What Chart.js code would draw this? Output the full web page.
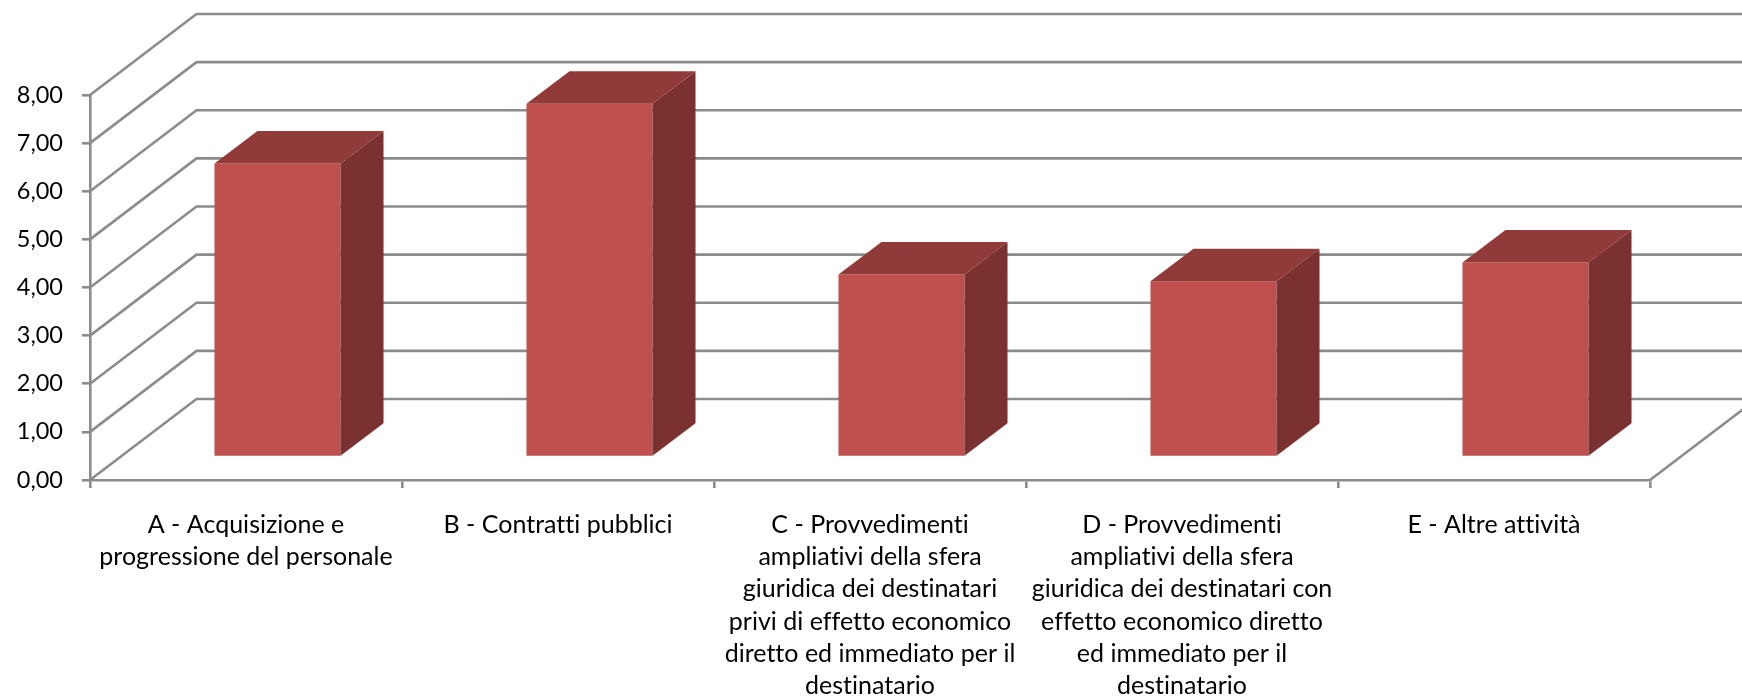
<!DOCTYPE html>
<html lang="it">
<head>
  <meta charset="UTF-8">
  <title>Aree di rischio</title>
  <script src="https://cdn.jsdelivr.net/npm/chart.js"></script>
  <style>
    html, body { margin: 0; padding: 0; background: #fff; overflow: hidden; }
    canvas { display: block; }
  </style>
</head>
<body>
  <canvas id="chart" width="1742" height="697"></canvas>

  <script>
    const categories = [
      ['A - Acquisizione e', 'progressione del personale'],
      ['B - Contratti pubblici'],
      ['C - Provvedimenti', 'ampliativi della sfera', 'giuridica dei destinatari', 'privi di effetto economico', 'diretto ed immediato per il', 'destinatario'],
      ['D - Provvedimenti', 'ampliativi della sfera', 'giuridica dei destinatari con', 'effetto economico diretto', 'ed immediato per il', 'destinatario'],
      ['E - Altre attività']
    ];
    const values = [6.10, 7.34, 3.79, 3.65, 4.04];
    const yMin = 0;
    const yMax = 8;
    const yStep = 1;

    const lineColor = '#8c8c8c';
    const wallDx = 106.5, wallDy = -81;   // front plane -> back wall
    const barDx = 31.5, barDy = -23;      // front plane -> front of the bar
    const depthDx = 43, depthDy = -32.5;  // front of the bar -> back of the bar

    // a tiny letter spacing switches off the "tt" ligature of the font
    const noLigatures = {
      id: 'noLigatures',
      beforeDraw(chart) { chart.ctx.letterSpacing = '0.01px'; }
    };

    // back wall, floor and side wall, drawn under the bars
    const walls = {
      id: 'walls',
      beforeDatasetsDraw(chart) {
        const { ctx, chartArea, scales } = chart;
        ctx.save();
        ctx.strokeStyle = lineColor;
        ctx.lineWidth = 2.6;
        for (let v = yMin; v <= yMax; v += yStep) {
          const y = scales.y.getPixelForValue(v);
          ctx.beginPath();
          ctx.moveTo(chartArea.left, y);
          ctx.lineTo(chartArea.left + wallDx, y + wallDy);
          ctx.lineTo(chart.width, y + wallDy);
          ctx.stroke();
        }
        const y0 = scales.y.getPixelForValue(yMin);
        ctx.beginPath();
        ctx.moveTo(chartArea.right, y0);
        ctx.lineTo(chartArea.right + wallDx, y0 + wallDy);
        ctx.stroke();
        ctx.restore();
      }
    };

    // shifts the bars onto the floor and adds top and side faces
    const bars3d = {
      id: 'bars3d',
      beforeDatasetDraw(chart) {
        chart.ctx.save();
        chart.ctx.translate(barDx, barDy);
      },
      afterDatasetDraw(chart, args) {
        const ctx = chart.ctx;
        args.meta.data.forEach(bar => {
          const left = bar.x - bar.width / 2;
          const right = bar.x + bar.width / 2;
          ctx.fillStyle = '#903b39';
          ctx.beginPath();
          ctx.moveTo(left, bar.y);
          ctx.lineTo(left + depthDx, bar.y + depthDy);
          ctx.lineTo(right + depthDx, bar.y + depthDy);
          ctx.lineTo(right, bar.y);
          ctx.closePath();
          ctx.fill();
          ctx.fillStyle = '#7b3130';
          ctx.beginPath();
          ctx.moveTo(right, bar.y);
          ctx.lineTo(right + depthDx, bar.y + depthDy);
          ctx.lineTo(right + depthDx, bar.base + depthDy);
          ctx.lineTo(right, bar.base);
          ctx.closePath();
          ctx.fill();
        });
        ctx.restore();
      }
    };

    new Chart(document.getElementById('chart'), {
      type: 'bar',
      data: {
        labels: categories,
        datasets: [{
          data: values,
          backgroundColor: '#c0504d',
          borderWidth: 0,
          barPercentage: 0.404,
          categoryPercentage: 1,
          clip: false
        }]
      },
      plugins: [noLigatures, walls, bars3d],
      options: {
        responsive: false,
        animation: false,
        layout: { padding: { top: 95, right: 92, left: 0, bottom: 0 } },
        plugins: { legend: { display: false }, tooltip: { enabled: false } },
        scales: {
          x: {
            afterFit(scale) { scale.height = 217; },
            border: { color: lineColor, width: 2.6 },
            grid: { drawOnChartArea: false, color: lineColor, lineWidth: 2.6, tickLength: 8, offset: true },
            ticks: {
              autoSkip: false,
              maxRotation: 0,
              padding: 20.5,
              color: '#000',
              font: { family: 'Lato', size: 25, lineHeight: 1.292 }
            }
          },
          y: {
            min: yMin,
            max: yMax,
            afterFit(scale) { scale.width = 90; },
            border: { color: lineColor, width: 2.6 },
            grid: { drawOnChartArea: false, color: lineColor, lineWidth: 2.6, tickLength: 8 },
            ticks: {
              stepSize: yStep,
              padding: 19,
              color: '#000',
              font: { family: 'Lato', size: 23.5 },
              callback: v => v.toFixed(2).replace('.', ',')
            }
          }
        }
      }
    });
  </script>
</body>
</html>
